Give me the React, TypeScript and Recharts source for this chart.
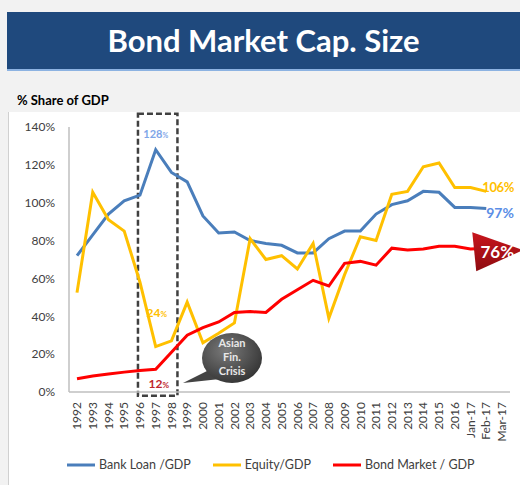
import React from "react";
import { LineChart, Line, XAxis, YAxis, Legend, ReferenceArea } from "recharts";

const periods = [
  "1992", "1993", "1994", "1995", "1996", "1997", "1998", "1999", "2000", "2001",
  "2002", "2003", "2004", "2005", "2006", "2007", "2008", "2009", "2010", "2011",
  "2012", "2013", "2014", "2015", "2016", "Jan-17", "Feb-17", "Mar-17",
];
const bankLoan = [
  72, 83, 94, 101, 104, 128, 116, 111, 93, 84, 84.5, 80, 78.5, 77.5, 73.5, 73.5,
  81, 85, 85, 94, 99, 101, 106, 105.5, 97.5, 97.5, 97, null,
];
const equity = [
  52.5, 105.5, 91, 85, 58, 24, 27, 47.5, 26, 31, 36.5, 81, 70, 72, 65, 78.5, 39,
  62, 82, 80, 104.5, 106, 119, 121, 108, 108, 106, null,
];
const bondMarket = [
  7, 8.5, 9.5, 10.5, 11.3, 12, 21, 30, 34, 37, 42, 42.5, 42, 49, 54, 59, 56, 68,
  69, 67, 76, 75, 75.5, 77, 77, 75.5, 76, null,
];
const yTicks = [0, 20, 40, 60, 80, 100, 120, 140];
const seriesNames = ["Bank Loan /GDP", "Equity/GDP", "Bond Market / GDP"];

const data = periods.map((p, i) => ({
  period: p,
  bank: bankLoan[i],
  equity: equity[i],
  bond: bondMarket[i],
}));

const FONT = "Lato, 'Open Sans', sans-serif";
const BLUE = "#4A7EBB";
const YELLOW = "#FFC000";
const RED = "#FF0000";
const LAST = 26; // Feb-17
const CRISIS = 5; // 1997

const pos = (p: any) => ({
  x: p.x ?? p.viewBox?.x,
  y: p.y ?? p.viewBox?.y,
});

const bankLabel = (p: any) => {
  const { x, y } = pos(p);
  if (p.index === CRISIS)
    return (
      <text x={x} y={y - 16} textAnchor="middle" dy="0.35em" fill="#7FA6E8" fontWeight="bold" fontSize={11} fontFamily={FONT}>
        {p.value}
        <tspan fontSize={7}>%</tspan>
      </text>
    );
  if (p.index === LAST)
    return (
      <text x={x} y={y + 5} dy="0.35em" fill="#5B8EE6" fontWeight="bold" fontSize={14} fontFamily={FONT}>
        {p.value}%
      </text>
    );
  return null;
};

const equityLabel = (p: any) => {
  const { x, y } = pos(p);
  if (p.index === CRISIS)
    return (
      <text x={x + 1} y={y - 34} textAnchor="middle" dy="0.35em" fill={YELLOW} fontWeight="bold" fontSize={12} fontFamily={FONT}>
        {p.value}
        <tspan fontSize={8}>%</tspan>
      </text>
    );
  if (p.index === LAST)
    return (
      <text x={x - 4} y={y - 4} dy="0.35em" fill={YELLOW} fontWeight="bold" fontSize={13} letterSpacing={-0.4} fontFamily={FONT}>
        {p.value}%
      </text>
    );
  return null;
};

const bondLabel = (p: any) => {
  const { x, y } = pos(p);
  if (p.index === CRISIS)
    return (
      <text x={x + 3} y={y + 15} textAnchor="middle" dy="0.35em" fill="#C0262C" fontWeight="bold" fontSize={12} fontFamily={FONT}>
        {p.value}
        <tspan fontSize={8}>%</tspan>
      </text>
    );
  if (p.index === LAST)
    return (
      <g>
        <defs>
          <linearGradient id="flagGrad" x1="0" y1="0" x2="0" y2="1">
            <stop offset="0%" stopColor="#C8161D" />
            <stop offset="100%" stopColor="#8E0B10" />
          </linearGradient>
        </defs>
        <polygon
          points={`${x - 14},${y - 16} ${x + 37},${y + 2} ${x - 10},${y + 23}`}
          fill="url(#flagGrad)"
        />
        <text x={x + 11} y={y + 4} textAnchor="middle" dy="0.35em" fill="#fff" fontWeight="bold" fontSize={17} fontFamily={FONT}>
          {p.value}%
        </text>
      </g>
    );
  return null;
};

const XTick = (p: any) => {
  const { x, y, payload } = p;
  return (
    <g transform={`translate(${x},${y})`}>
      <text transform="rotate(-90)" x={-2} y={0} dy="0.35em" textAnchor="end" fill="#404040" fontSize={12} fontFamily={FONT}>
        {payload.value}
      </text>
    </g>
  );
};

// dashed crisis box, a bit wider than the 1996-1998 span
const CrisisBox = (p: any) => (
  <rect
    x={p.x - 2}
    y={p.y}
    width={p.width + 8}
    height={p.height}
    fill="none"
    stroke="#404040"
    strokeWidth={2.5}
    strokeDasharray="6 3"
  />
);

const renderLegend = (props: any) => {
  const items = [...(props.payload || [])].sort(
    (a: any, b: any) => seriesNames.indexOf(a.value) - seriesNames.indexOf(b.value)
  );
  return (
    <div style={{ display: "flex", paddingLeft: 67, gap: 22, fontFamily: FONT, fontSize: 12.5, color: "#404040" }}>
      {items.map((e: any) => (
        <div key={e.value} style={{ display: "flex", alignItems: "center" }}>
          <svg width={30} height={6} style={{ marginRight: 2 }}>
            <line x1={0} y1={3} x2={28} y2={3} stroke={e.color} strokeWidth={3} />
          </svg>
          <span>{e.value}</span>
        </div>
      ))}
    </div>
  );
};

export default function App() {
  return (
    <div style={{ position: "absolute", left: 0, top: 0, width: 520, height: 485, background: "#F2F2F2", overflow: "hidden" }}>
      <div style={{ position: "absolute", left: 7, top: 12, width: 513, height: 57, background: "#1F497D", borderBottom: "2px solid #8DB3E2", display: "flex", alignItems: "center", justifyContent: "center" }}>
        <span style={{ color: "#fff", fontFamily: FONT, fontWeight: "bold", fontSize: 31, marginTop: -2 }}>Bond Market Cap. Size</span>
      </div>
      <div style={{ position: "absolute", left: 17, top: 92, fontFamily: FONT, fontWeight: "bold", fontSize: 13, color: "#000" }}>
        % Share of GDP
      </div>
      <div style={{ position: "absolute", left: 8, top: 112, width: 512, height: 373, background: "#fff", borderLeft: "1px solid #D0D0D0" }} />
      <div style={{ position: "absolute", left: 0, top: 0 }}>
        <LineChart width={520} height={485} data={data} margin={{ top: 127, right: 10, left: 0, bottom: 33 }}>
          <XAxis
            dataKey="period"
            interval={0}
            height={60}
            padding={{ left: 8, right: 8 }}
            tickLine={false}
            axisLine={{ stroke: "#BFBFBF", strokeWidth: 1.5 }}
            tick={<XTick />}
          />
          <YAxis
            width={69}
            domain={[0, 140]}
            ticks={yTicks}
            tickLine={false}
            tickMargin={8}
            axisLine={{ stroke: "#BFBFBF", strokeWidth: 1.5 }}
            tickFormatter={(v: number) => `${v}%`}
            tick={{ fill: "#404040", fontSize: 12, fontFamily: FONT }}
          />
          <ReferenceArea
            x1="1996"
            x2="1998"
            y1={-2}
            y2={147}
            ifOverflow="visible"
            shape={<CrisisBox />}
          />
          <Line dataKey="bank" name={seriesNames[0]} stroke={BLUE} strokeWidth={3} dot={false} isAnimationActive={false} label={bankLabel} />
          <Line dataKey="equity" name={seriesNames[1]} stroke={YELLOW} strokeWidth={3} dot={false} isAnimationActive={false} label={equityLabel} />
          <Line dataKey="bond" name={seriesNames[2]} stroke={RED} strokeWidth={3} dot={false} isAnimationActive={false} label={bondLabel} />
          <Legend
            verticalAlign="middle"
            align="center"
            layout="horizontal"
            content={renderLegend}
            wrapperStyle={{ top: 457, left: 0, width: 520 }}
          />
        </LineChart>
      </div>
      <svg width={520} height={485} style={{ position: "absolute", left: 0, top: 0, pointerEvents: "none" }}>
        <defs>
          <radialGradient id="bubbleGrad" cx="40%" cy="35%" r="70%">
            <stop offset="0%" stopColor="#7A7A7A" />
            <stop offset="100%" stopColor="#333" />
          </radialGradient>
        </defs>
        <path d="M 209 370 L 183 383 L 220 379 Z" fill="#444" />
        <ellipse cx={232} cy={358} rx={30} ry={25} fill="url(#bubbleGrad)" />
        <g fill="#E8E8E8" fontFamily={FONT} fontWeight="bold" fontSize={11} textAnchor="middle">
          <text x={232} y={343} dy="0.35em">Asian</text>
          <text x={232} y={357} dy="0.35em">Fin.</text>
          <text x={232} y={371} dy="0.35em">Crisis</text>
        </g>
      </svg>
    </div>
  );
}
